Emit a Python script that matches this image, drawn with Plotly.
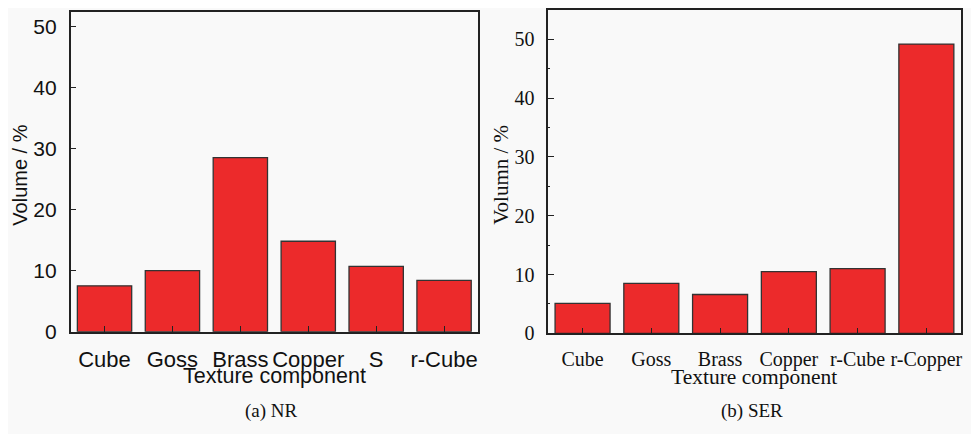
import plotly.graph_objects as go

# (a) NR
nr_labels = ['Cube', 'Goss', 'Brass', 'Copper', 'S', 'r-Cube']
nr_volume = [7.5, 10.0, 28.5, 14.8, 10.7, 8.4]

# (b) SER
ser_labels = ['Cube', 'Goss', 'Brass', 'Copper', 'r-Cube', 'r-Copper']
ser_volume = [5.1, 8.5, 6.6, 10.5, 11.0, 49.2]

BAR_RED = '#ec2a2b'
LINE = '#222222'
BG = '#f9f9f9'
SANS = 'Liberation Sans, Arial, sans-serif'
SERIF = 'Liberation Serif, Times New Roman, serif'

# the page puts the figure 8 px in from the top-left corner (body margin),
# so the figure is that much smaller and positions are given in page pixels
OFF = 8
W, H = 979 - OFF, 434 - OFF


def px(x):
    return (x - OFF) / W


def py(y):
    return 1 - (y - OFF) / H


fig = go.Figure()

fig.add_trace(go.Bar(x=nr_labels, y=nr_volume, xaxis='x', yaxis='y',
                     marker=dict(color=BAR_RED, line=dict(color='#333333', width=1.3)),
                     showlegend=False))
fig.add_trace(go.Bar(x=ser_labels, y=ser_volume, xaxis='x2', yaxis='y2',
                     marker=dict(color=BAR_RED, line=dict(color='#333333', width=1.3)),
                     showlegend=False))


def axis_style(font, size):
    return dict(showline=True, linewidth=1.6, linecolor=LINE, mirror=True,
                ticks='inside', ticklen=6, tickwidth=1.3, tickcolor=LINE,
                showgrid=False, zeroline=False,
                tickfont=dict(family=font, size=size, color='#111111'))


fig.update_layout(
    width=W, height=H, autosize=False,
    margin=dict(l=0, r=0, t=0, b=0),
    paper_bgcolor=BG, plot_bgcolor=BG,
    bargap=0.2,
    xaxis=dict(domain=[px(70.7), px(479)], anchor='y', ticklabelstandoff=7,
               **axis_style(SANS, 22)),
    yaxis=dict(domain=[py(340), py(10.7)], anchor='x', range=[0, 52.4],
               dtick=10, ticklabelstandoff=8, **axis_style(SANS, 21)),
    xaxis2=dict(domain=[px(549.3), px(962.7)], anchor='y2', ticklabelstandoff=7,
                **axis_style(SERIF, 20)),
    yaxis2=dict(domain=[py(341.7), py(9)], anchor='x2', range=[0, 55],
                dtick=10, ticklabelstandoff=8,
                minor=dict(dtick=5, ticks='inside', ticklen=2, tickcolor=LINE),
                **axis_style(SERIF, 20)),
)

annotations = [
    dict(text='Texture component', x=px(274.8), y=py(385.5),
         font=dict(family=SANS, size=21.5, color='#111111')),
    dict(text='Volume / %', x=px(20), y=py(178.5), textangle=-90,
         font=dict(family=SANS, size=20, color='#111111')),
    dict(text='(a) NR', x=px(272), y=py(421.5),
         font=dict(family=SERIF, size=19, color='#111111')),
    dict(text='Texture component', x=px(756), y=py(387),
         font=dict(family=SERIF, size=21.5, color='#111111')),
    dict(text='Volumn / %', x=px(502.7), y=py(179), textangle=-90,
         font=dict(family=SERIF, size=21, color='#111111')),
    dict(text='(b) SER', x=px(754), y=py(421.5),
         font=dict(family=SERIF, size=19, color='#111111')),
]
for a in annotations:
    fig.add_annotation(xref='paper', yref='paper', showarrow=False,
                       xanchor='center', yanchor='middle', **a)

fig.write_html("out.html")
